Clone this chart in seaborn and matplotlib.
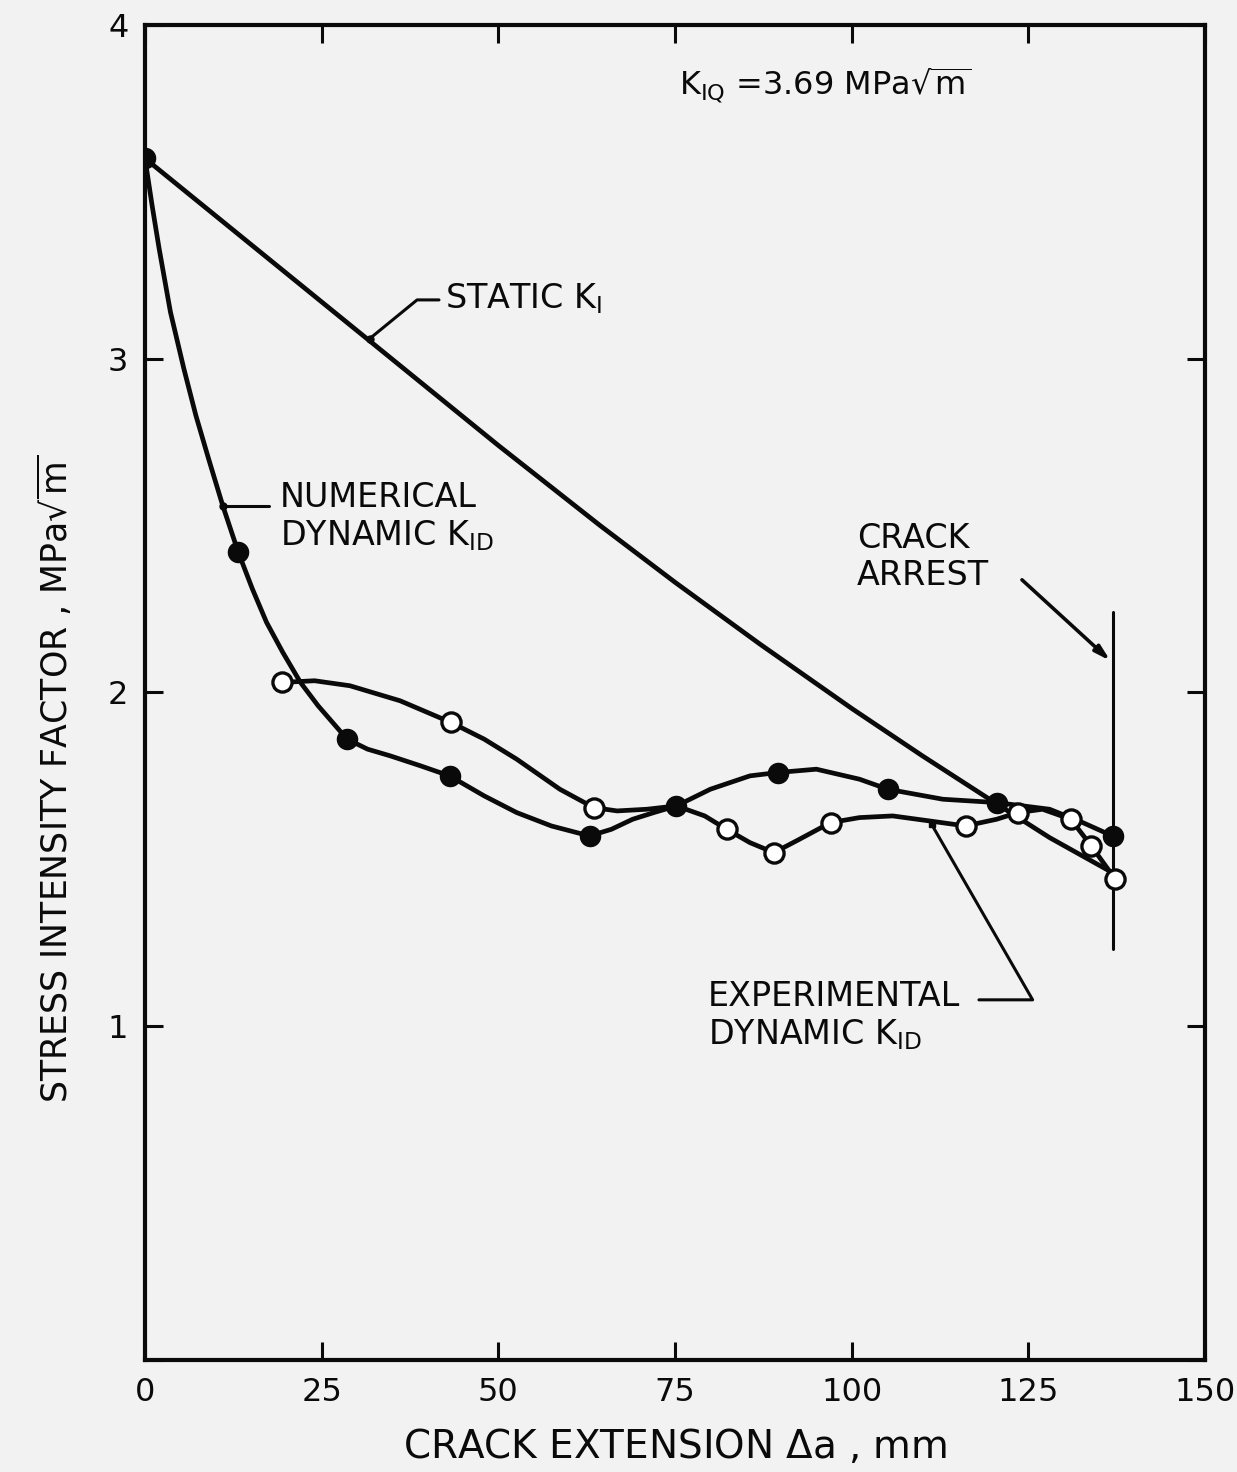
import numpy as np
import pandas as pd
import matplotlib
matplotlib.use("Agg")
import matplotlib.pyplot as plt
import seaborn as sns

# ---------------------------------
# values
# x = crack extension (mm), k = stress intensity (MPa sqrt(m))
# ---------------------------------

# static K_I trace
static_x = [0, 25, 50, 64.4, 75, 87, 100, 110, 120.6, 128, 136.9]
static_k = [3.60, 3.17, 2.74, 2.50, 2.33, 2.145, 1.952, 1.81, 1.665, 1.565, 1.46]

# numerical dynamic K_ID trace + its filled points
num_line_x = [0, 1.0, 2.0, 3.6, 5.5, 7.2, 9.0, 11.0, 13.2, 15.2, 17.2, 19.5, 22.0, 24.5, 28.6,
              31.5, 34.7, 39.0, 43.1, 48.0, 52.6, 57.5, 62.9, 66.0, 69.0, 72.0, 75.2,
              80.0, 85.6, 89.5, 95.0, 101.1, 105.1, 112.9, 120.5, 128.0, 132.7, 136.9]
num_line_k = [3.60, 3.46, 3.33, 3.14, 2.97, 2.83, 2.70, 2.56, 2.42, 2.31, 2.21, 2.12, 2.03, 1.96, 1.86,
              1.83, 1.81, 1.78, 1.75, 1.69, 1.64, 1.60, 1.57, 1.59, 1.62, 1.64, 1.66,
              1.71, 1.75, 1.76, 1.77, 1.74, 1.71, 1.68, 1.67, 1.65, 1.61, 1.57]
num_pts_x = [0, 13.2, 28.6, 43.1, 62.9, 75.2, 89.5, 105.1, 120.5, 136.9]
num_pts_k = [3.60, 2.42, 1.86, 1.75, 1.57, 1.66, 1.76, 1.71, 1.67, 1.57]

# experimental dynamic K_ID trace + its open points
exp_line_x = [19.4, 24.0, 29.0, 36.1, 43.3, 48.0, 52.6, 58.7, 63.5, 66.8, 71.0, 75.2, 79.2, 82.3,
              85.6, 89.0, 92.6, 97.0, 101.1, 105.8, 111.0, 116.1, 120.5, 123.5, 127.0,
              131.0, 133.9, 137.3]
exp_line_k = [2.03, 2.035, 2.02, 1.975, 1.91, 1.86, 1.80, 1.71, 1.655, 1.645, 1.65, 1.66, 1.63, 1.59,
              1.55, 1.52, 1.56, 1.61, 1.625, 1.63, 1.615, 1.60, 1.62, 1.64, 1.65,
              1.62, 1.54, 1.44]
exp_pts_x = [19.4, 43.3, 63.5, 82.3, 89.0, 97.0, 116.1, 123.5, 131.0, 133.9, 137.3]
exp_pts_k = [2.03, 1.91, 1.655, 1.59, 1.52, 1.61, 1.60, 1.64, 1.62, 1.54, 1.44]

# crack arrest position
arrest_x = 136.9
arrest_span = [1.23, 2.24]

x_ticks = [0, 25, 50, 75, 100, 125, 150]
y_ticks = [0, 1, 2, 3, 4]

# ---------------------------------
# style
# ---------------------------------
sns.set_style("ticks")
plt.rcParams['font.family'] = ['DejaVu Sans']
plt.rcParams['mathtext.fontset'] = 'dejavusans'

paper = "#f2f2f2"
ink = "#0a0a0a"
lw = 3.4

fig = plt.figure(figsize=(12.37, 14.72), dpi=100, facecolor=paper)
ax = fig.add_axes([0.1172, 0.0761, 0.857, 0.907])
ax.set_facecolor(paper)

# ---------------------------------
# curves
# ---------------------------------
sns.lineplot(x=static_x, y=static_k, sort=False, color=ink, lw=lw, ax=ax)
sns.lineplot(x=num_line_x, y=num_line_k, sort=False, color=ink, lw=lw, ax=ax)
sns.lineplot(x=exp_line_x, y=exp_line_k, sort=False, color=ink, lw=lw, ax=ax)

sns.scatterplot(x=num_pts_x, y=num_pts_k, color=ink, s=210, edgecolor=ink,
                linewidth=1, zorder=5, ax=ax)
sns.scatterplot(x=exp_pts_x, y=exp_pts_k, color="white", s=190, edgecolor=ink,
                linewidth=2.4, zorder=6, ax=ax)

# crack arrest marker line
ax.plot([arrest_x, arrest_x], arrest_span, color=ink, lw=2.2)

# ---------------------------------
# annotations
# ---------------------------------
fs = 24
ax.text(75.5, 3.82, r"K$_{\mathregular{IQ}}$ =3.69 MPa$\sqrt{\mathregular{m}}$",
        fontsize=23, va="center", ha="left", color=ink)

ax.text(42.4, 3.18, r"STATIC K$_{\mathregular{I}}$", fontsize=fs, va="center", color=ink)
ax.plot([41.6, 38.5, 31.8], [3.176, 3.176, 3.06], color=ink, lw=2.2)
ax.plot([31.8], [3.06], "o", color=ink, ms=5)

ax.text(19.1, 2.585, "NUMERICAL", fontsize=fs, va="center", color=ink)
ax.text(19.1, 2.47, r"DYNAMIC K$_{\mathregular{ID}}$", fontsize=fs, va="center", color=ink)
ax.plot([17.5, 11.0], [2.56, 2.56], color=ink, lw=2.2)
ax.plot([11.0], [2.56], "o", color=ink, ms=5)

ax.text(100.7, 2.46, "CRACK", fontsize=fs, va="center", color=ink)
ax.text(100.7, 2.35, "ARREST", fontsize=fs, va="center", color=ink)
ax.annotate("", xy=(136.9, 2.089), xytext=(123.8, 2.343),
            arrowprops=dict(arrowstyle="-|>,head_length=0.9,head_width=0.25",
                            color=ink, lw=2.6))

ax.text(79.6, 1.088, "EXPERIMENTAL", fontsize=fs, va="center", color=ink)
ax.text(79.6, 0.975, r"DYNAMIC K$_{\mathregular{ID}}$", fontsize=fs, va="center", color=ink)
ax.plot([118.0, 125.6, 111.3], [1.079, 1.079, 1.605], color=ink, lw=2.2)
ax.plot([111.3], [1.605], "s", color=ink, ms=5)

# ---------------------------------
# axes
# ---------------------------------
ax.set_xlim(0, 150)
ax.set_ylim(0, 4)
ax.set_xticks(x_ticks)
ax.set_yticks(y_ticks)
ax.set_xticklabels([str(t) for t in x_ticks])
ax.set_yticklabels([""] + [str(t) for t in y_ticks[1:]])
ax.tick_params(direction="in", length=13, width=2.2, top=True, right=True,
               labelsize=23, colors=ink, pad=12)
for sp in ax.spines.values():
    sp.set_linewidth(3.0)
    sp.set_color(ink)

ax.set_xlabel(r"CRACK EXTENSION $\Delta$a , mm", fontsize=28, color=ink, labelpad=14)
ax.set_ylabel(r"STRESS INTENSITY FACTOR , MPa$\sqrt{\mathregular{m}}$", fontsize=25,
              color=ink)
ax.yaxis.set_label_coords(-0.066, 0.435)

fig.savefig("out.png", dpi=100, facecolor=paper)
